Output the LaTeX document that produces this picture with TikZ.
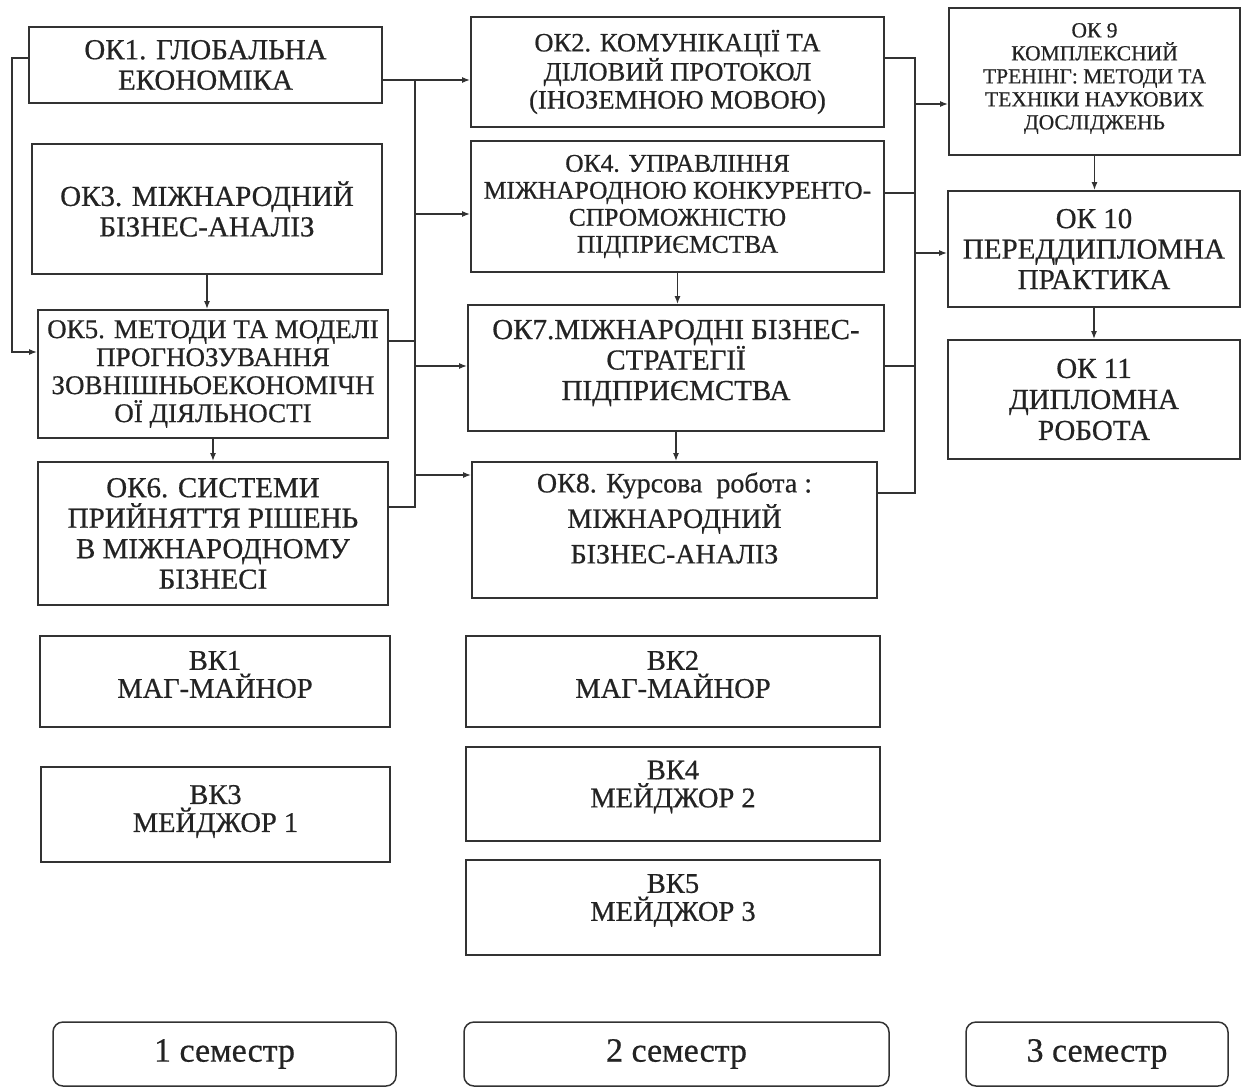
\documentclass[tikz,border=0pt]{standalone}
\usepackage{fontspec}
\setmainfont{Liberation Serif}[FakeBold=0.6]
\usetikzlibrary{arrows.meta}
\definecolor{linec}{RGB}{50,50,50}
\definecolor{textc}{RGB}{35,35,35}
\newcommand{\liftlines}[2]{\raisebox{#1}[\height][\depth]{\let\\\cr\vbox{\halign{\hfil##\hfil\cr #2\crcr}}}}
\tikzset{
  box/.style={draw=linec, line width=1.8pt, inner sep=0pt, align=center, text=textc},
  sem/.style={box, rounded corners=10pt, line width=1.5pt},
  ln/.style={draw=linec, line width=1.4pt},
  arr/.style={ln, -{Latex[length=8pt,width=6pt]}},
  fA/.style={font=\fontsize{29}{30.5}\selectfont},
  fB/.style={font=\fontsize{28.5}{28}\selectfont},
  fC/.style={font=\fontsize{21.5}{23}\selectfont},
  fS/.style={font=\fontsize{34}{36}\selectfont},
}
\begin{document}
\begin{tikzpicture}[x=1pt,y=-1pt]
\useasboundingbox (0,0) rectangle (1247,1088);
% column 1
\node[box,fA,minimum width=353pt,minimum height=76pt] (ok1) at (205.5,65) {ОК1. ГЛОБАЛЬНА\\ЕКОНОМІКА};
\node[box,fA,minimum width=350pt,minimum height=130pt] (ok3) at (207,209) {ОК3. МІЖНАРОДНИЙ\\БІЗНЕС-АНАЛІЗ};
\node[box,font=\fontsize{27}{28}\selectfont,minimum width=350pt,minimum height=128pt] (ok5) at (213,374) {ОК5. МЕТОДИ ТА МОДЕЛІ\\ПРОГНОЗУВАННЯ\\ЗОВНІШНЬОЕКОНОМІЧН\\ОЇ ДІЯЛЬНОСТІ};
\node[box,fA,minimum width=350pt,minimum height=143pt] (ok6) at (213,533.5) {ОК6. СИСТЕМИ\\ПРИЙНЯТТЯ РІШЕНЬ\\В МІЖНАРОДНОМУ\\БІЗНЕСІ};
% column 2
\node[box,font=\fontsize{26.5}{28}\selectfont,minimum width=413pt,minimum height=110pt] (ok2) at (677.5,72) {ОК2. КОМУНІКАЦІЇ ТА\\ДІЛОВИЙ ПРОТОКОЛ\\(ІНОЗЕМНОЮ МОВОЮ)};
\node[box,font=\fontsize{25.5}{27}\selectfont,minimum width=413pt,minimum height=131pt] (ok4) at (677.5,206.5) {ОК4. УПРАВЛІННЯ\\МІЖНАРОДНОЮ КОНКУРЕНТО-\\СПРОМОЖНІСТЮ\\ПІДПРИЄМСТВА};
\node[box,font=\fontsize{29}{30.5}\selectfont,minimum width=416pt,minimum height=126pt] (ok7) at (676,368) {\liftlines{5pt}{ОК7.МІЖНАРОДНІ БІЗНЕС-\\СТРАТЕГІЇ\\ПІДПРИЄМСТВА}};
\node[box,font=\fontsize{28}{35.5}\selectfont,minimum width=405pt,minimum height=136pt] (ok8) at (674.5,530) {\liftlines{12pt}{ОК8. Курсова\ \ робота :\\МІЖНАРОДНИЙ\\БІЗНЕС-АНАЛІЗ}};
% column 3
\node[box,fC,minimum width=291pt,minimum height=147pt] (ok9) at (1094.5,81.5) {\liftlines{3pt}{ОК 9\\КОМПЛЕКСНИЙ\\ТРЕНІНГ: МЕТОДИ ТА\\ТЕХНІКИ НАУКОВИХ\\ДОСЛІДЖЕНЬ}};
\node[box,fA,minimum width=292pt,minimum height=116pt] (ok10) at (1094,249) {ОК 10\\ПЕРЕДДИПЛОМНА\\ПРАКТИКА};
\node[box,font=\fontsize{29}{31}\selectfont,minimum width=292pt,minimum height=119pt] (ok11) at (1094,399.5) {ОК 11\\ДИПЛОМНА\\РОБОТА};
% elective boxes
\node[box,fB,minimum width=350pt,minimum height=91pt] (bk1) at (215,681.5) {\liftlines{7pt}{ВК1\\МАГ-МАЙНОР}};
\node[box,fB,minimum width=349pt,minimum height=95pt] (bk3) at (215.5,814.5) {\liftlines{3pt}{ВК3\\МЕЙДЖОР 1}};
\node[box,fB,minimum width=414pt,minimum height=91pt] (bk2) at (673,681.5) {\liftlines{7pt}{ВК2\\МАГ-МАЙНОР}};
\node[box,fB,minimum width=414pt,minimum height=94pt] (bk4) at (673,794) {\liftlines{7pt}{ВК4\\МЕЙДЖОР 2}};
\node[box,fB,minimum width=414pt,minimum height=95pt] (bk5) at (673,907.5) {\liftlines{7pt}{ВК5\\МЕЙДЖОР 3}};
% semesters
\node[sem,fS,minimum width=343pt,minimum height=64pt] (s1) at (224.5,1054) {1 семестр};
\node[sem,fS,minimum width=425pt,minimum height=64pt] (s2) at (676.5,1054) {2 семестр};
\node[sem,fS,minimum width=262pt,minimum height=64pt] (s3) at (1097,1054) {3 семестр};
% left loop
\coordinate (L1) at (12,58);
\coordinate (L2) at (12,352);
\draw[arr] (ok1.west |- L1) -- (L1) -- (L2) -- (ok5.west |- L2);
% vertical arrows
\draw[arr] (ok3.south) -- (ok3.south |- ok5.north);
\draw[arr] (ok5.south) -- (ok5.south |- ok6.north);
\draw[arr] (ok4.south) -- (ok4.south |- ok7.north);
\draw[arr] (ok7.south) -- (ok7.south |- ok8.north);
\draw[arr] (ok9.south) -- (ok9.south |- ok10.north);
\draw[arr] (ok10.south) -- (ok10.south |- ok11.north);
% bus 1
\coordinate (B1a) at (415,80);
\coordinate (B1b) at (415,507);
\coordinate (B1c) at (415,214);
\coordinate (B1d) at (415,341);
\coordinate (B1e) at (415,366);
\coordinate (B1f) at (415,475);
\draw[ln] (ok1.east |- B1a) -- (B1a) -- (B1b) -- (ok6.east |- B1b);
\draw[ln] (ok5.east |- B1d) -- (B1d);
\draw[arr] (B1a) -- (ok2.west |- B1a);
\draw[arr] (B1c) -- (ok4.west |- B1c);
\draw[arr] (B1e) -- (ok7.west |- B1e);
\draw[arr] (B1f) -- (ok8.west |- B1f);
% bus 2
\coordinate (B2a) at (915,58);
\coordinate (B2b) at (915,493);
\coordinate (B2c) at (915,193);
\coordinate (B2d) at (915,366);
\coordinate (B2e) at (915,104);
\coordinate (B2f) at (915,253);
\draw[ln] (ok2.east |- B2a) -- (B2a) -- (B2b) -- (ok8.east |- B2b);
\draw[ln] (ok4.east |- B2c) -- (B2c);
\draw[ln] (ok7.east |- B2d) -- (B2d);
\draw[arr] (B2e) -- (ok9.west |- B2e);
\draw[arr] (B2f) -- (ok10.west |- B2f);
\end{tikzpicture}
\end{document}
